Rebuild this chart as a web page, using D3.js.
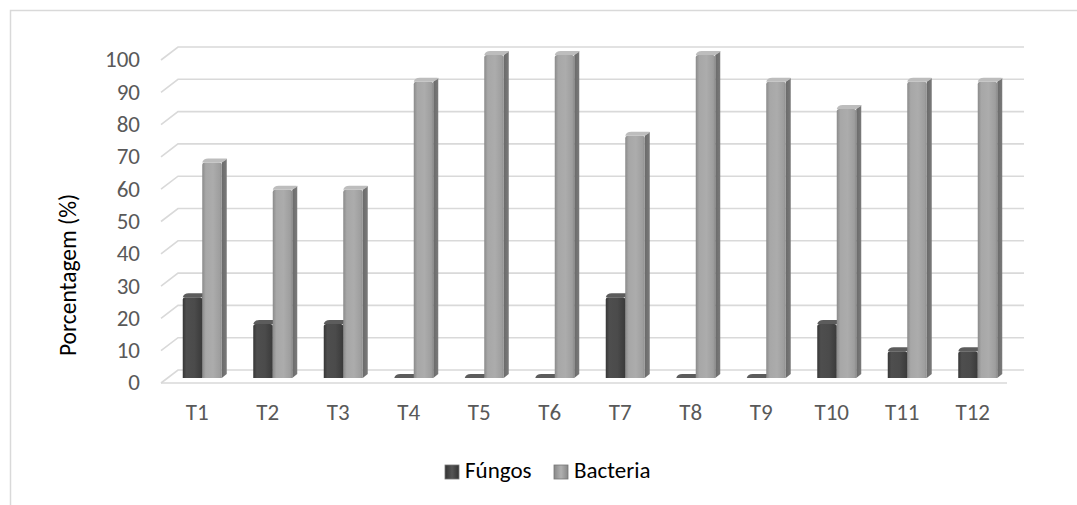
<!DOCTYPE html>
<html>
<head>
<meta charset="utf-8">
<script src="https://cdn.jsdelivr.net/npm/d3@7"></script>
<style>
  html, body { margin: 0; padding: 0; background: #fff; }
  svg { display: block; font-family: Carlito, Calibri, "Open Sans", sans-serif; }
</style>
</head>
<body>
<div id="chart"></div>
<script>
  // Chart data
  const categories = ["T1", "T2", "T3", "T4", "T5", "T6", "T7", "T8", "T9", "T10", "T11", "T12"];
  const fungos = [25, 16.7, 16.7, 0, 0, 0, 25, 0, 0, 16.7, 8.3, 8.3];
  const bacteria = [66.7, 58.3, 58.3, 91.7, 100, 100, 75, 100, 91.7, 83.3, 91.7, 91.7];
  const yTicks = [0, 10, 20, 30, 40, 50, 60, 70, 80, 90, 100];
  const seriesNames = ["Fúngos", "Bacteria"];

  const width = 1077, height = 505;

  const svg = d3.select("#chart").append("svg")
      .attr("width", width)
      .attr("height", height);

  // Gradients for the 3D-ish bars
  const defs = svg.append("defs");
  function hGrad(id, stops) {
      const g = defs.append("linearGradient").attr("id", id)
          .attr("x1", "0").attr("x2", "1").attr("y1", "0").attr("y2", "0");
      stops.forEach(s => g.append("stop").attr("offset", s[0]).attr("stop-color", s[1]));
  }
  hGrad("fFront", [[0, "#363636"], [0.18, "#4e4e4e"], [0.6, "#4b4b4b"], [1, "#3a3a3a"]]);
  hGrad("bFront", [[0, "#8a8a8a"], [0.18, "#a7a7a7"], [0.55, "#acacac"], [0.9, "#9e9e9e"], [1, "#8c8c8c"]]);
  hGrad("fSide", [[0, "#2e2e2e"], [1, "#3a3a3a"]]);
  hGrad("bSide", [[0, "#6a6a6a"], [1, "#7a7a7a"]]);
  hGrad("fKey", [[0, "#333"], [0.5, "#555"], [1, "#333"]]);
  hGrad("bKey", [[0, "#888"], [0.5, "#b0b0b0"], [1, "#888"]]);

  // Chart frame
  svg.append("path")
      .attr("d", "M10.5," + height + "V10.5H" + width)
      .attr("fill", "none")
      .attr("stroke", "#d9d9d9")
      .attr("stroke-width", 1.5);

  // Scales (front plane)
  const x = d3.scaleBand().domain(categories).range([161, 1007]);
  const y = d3.scaleLinear().domain([0, 100]).range([383, 60]);

  const DX = 17, DY = 13;      // back wall offset
  const BX = 6, BY = 5;        // bar plane offset
  const SX = 5, SY = 4;        // bar depth

  // Gridlines: side wall diagonal + back wall line
  const grid = svg.append("g")
      .attr("fill", "none")
      .attr("stroke", "#d9d9d9")
      .attr("stroke-width", 1.6);
  grid.selectAll("path")
      .data(yTicks)
      .enter().append("path")
      .attr("d", d => "M" + x.range()[0] + "," + y(d) +
          "L" + (x.range()[0] + DX) + "," + (y(d) - DY) +
          "H" + (x.range()[1] + DX));
  // floor front edge
  grid.append("path")
      .attr("d", "M" + x.range()[0] + "," + y(0) + "H" + x.range()[1]);

  // Y tick labels
  svg.append("g")
      .selectAll("text")
      .data(yTicks)
      .enter().append("text")
      .attr("x", 140)
      .attr("y", d => y(d) + 2)
      .attr("text-anchor", "end")
      .attr("dominant-baseline", "middle")
      .attr("fill", "#595959")
      .style("font-size", "23px")
      .text(d => d);

  // Y axis title
  svg.append("text")
      .attr("transform", "translate(70,275) rotate(-90)")
      .attr("text-anchor", "middle")
      .attr("dominant-baseline", "middle")
      .attr("fill", "#000")
      .style("font-size", "23.5px")
      .text("Porcentagem (%)");

  // Category labels
  svg.append("g")
      .selectAll("text")
      .data(categories)
      .enter().append("text")
      .attr("x", d => x(d) + x.bandwidth() / 2 + 1)
      .attr("y", 415)
      .attr("text-anchor", "middle")
      .attr("dominant-baseline", "middle")
      .attr("fill", "#595959")
      .style("font-size", "23px")
      .text(d => d);

  // Bars
  const barW = 19.5;
  const inner = d3.scaleBand().domain(seriesNames).range([-barW, barW]);
  const yb = v => y(v) - BY;

  const rows = [];
  categories.forEach((c, i) => {
      rows.push({ cat: c, s: "Fúngos", v: fungos[i], front: "url(#fFront)", side: "url(#fSide)", top: "#5c5c5c" });
      rows.push({ cat: c, s: "Bacteria", v: bacteria[i], front: "url(#bFront)", side: "url(#bSide)", top: "#bdbdbd" });
  });

  const bars = svg.append("g")
      .selectAll("g")
      .data(rows)
      .enter().append("g")
      .attr("transform", d => "translate(" + (x(d.cat) + x.bandwidth() / 2 + BX + inner(d.s)) + ",0)");

  // side face
  bars.append("path")
      .attr("fill", d => d.side)
      .attr("d", d => {
          const t = yb(d.v), b = yb(0);
          return "M" + barW + "," + t + "L" + (barW + SX) + "," + (t - SY) +
              "V" + (b - SY) + "L" + barW + "," + b + "Z";
      });
  // front face
  bars.append("path")
      .attr("fill", d => d.front)
      .attr("d", d => {
          const t = yb(d.v), b = yb(0), r = Math.min(2.5, (b - t) / 2);
          return "M0," + b + "V" + (t + r) + "Q0," + t + " " + r + "," + t +
              "H" + (barW - r) + "Q" + barW + "," + t + " " + barW + "," + (t + r) +
              "V" + b + "Z";
      });
  // top face
  bars.append("path")
      .attr("fill", d => d.top)
      .attr("d", d => {
          const t = yb(d.v);
          return "M0," + t + "Q1," + (t - SY) + " " + (SX + 1) + "," + (t - SY) +
              "H" + (barW + SX - 1) + "Q" + (barW + SX) + "," + (t - SY) + " " + (barW + SX) + "," + (t - SY + 1) +
              "L" + barW + "," + t + "Z";
      });

  // Legend
  const legend = svg.append("g");
  const legendItems = [
      { name: "Fúngos", fill: "url(#fKey)", x: 445 },
      { name: "Bacteria", fill: "url(#bKey)", x: 554 }
  ];
  const li = legend.selectAll("g")
      .data(legendItems)
      .enter().append("g")
      .attr("transform", d => "translate(" + d.x + ",465)");
  li.append("rect")
      .attr("width", 14)
      .attr("height", 14)
      .attr("fill", d => d.fill)
      .attr("stroke", "#777")
      .attr("stroke-width", 0.8);
  li.append("text")
      .attr("x", 20)
      .attr("y", 7.5)
      .attr("dominant-baseline", "middle")
      .attr("fill", "#000")
      .style("font-size", "23px")
      .text(d => d.name);
</script>
</body>
</html>
